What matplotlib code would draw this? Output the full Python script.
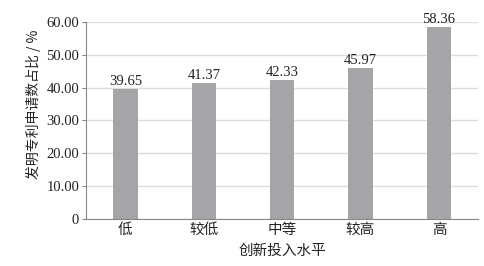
import matplotlib.pyplot as plt

# Data
categories = ['低', '较低', '中等', '较高', '高']
values = [39.65, 41.37, 42.33, 45.97, 58.36]
yticks = [0, 10, 20, 30, 40, 50, 60]
ytick_labels = ['0', '10.00', '20.00', '30.00', '40.00', '50.00', '60.00']

plt.rcParams['font.family'] = ['Liberation Serif', 'Noto Sans CJK SC']

fig = plt.figure(figsize=(4.84, 2.66), dpi=100)
ax = fig.add_axes([0.178, 0.177, 0.81, 0.74])

x = range(len(categories))
bars = ax.bar(x, values, width=0.31, color='#a5a5a8', zorder=2)

for xi, v in zip(x, values):
    ax.text(xi, v + 0.3, f'{v:.2f}', ha='center', va='bottom', fontsize=10.5, color='#222222')

ax.set_xlim(-0.5, len(categories) - 0.5)
ax.set_ylim(0, 60)
ax.set_yticks(yticks)
ax.set_yticklabels(ytick_labels, fontsize=10.5, color='#222222')
ax.set_xticks(list(x))
ax.set_xticklabels(categories, fontsize=10.5, color='#222222',
                   family=['Noto Sans CJK SC'])

ax.grid(axis='y', color='#dcdcdc', linewidth=1, zorder=0)
for s in ['top', 'right']:
    ax.spines[s].set_visible(False)
for s in ['left', 'bottom']:
    ax.spines[s].set_color('#888888')
    ax.spines[s].set_linewidth(0.8)
ax.tick_params(axis='x', length=0, pad=3)
ax.tick_params(axis='y', length=3, color='#888888', pad=2)

ax.set_xlabel('创新投入水平', fontsize=10.5, color='#222222', family=['Noto Sans CJK SC'], labelpad=5)
ax.set_ylabel('发明专利申请数占比 / %', fontsize=10, color='#222222',
              family=['Noto Sans CJK SC', 'Liberation Serif'])
ax.yaxis.set_label_coords(-0.115, 0.58)

plt.savefig('out.png', dpi=100)
